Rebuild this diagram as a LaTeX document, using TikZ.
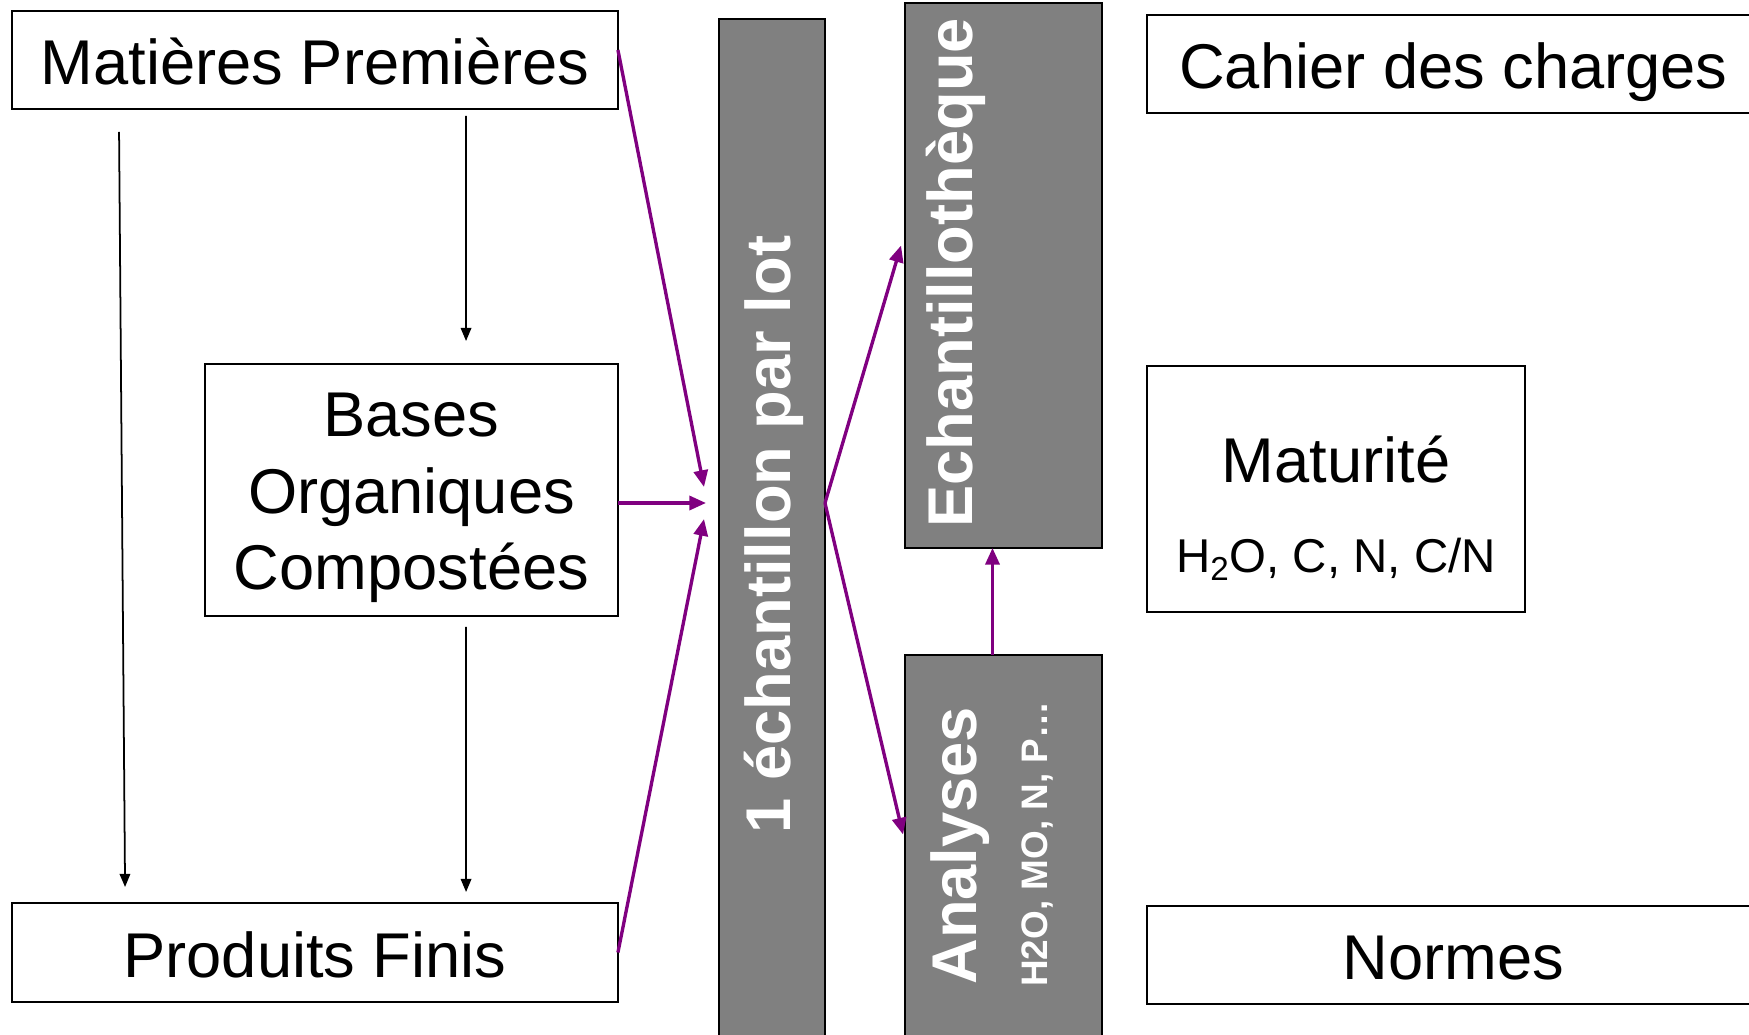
\documentclass[tikz,border=0pt]{standalone}
\usepackage{fontspec}
\setmainfont{Liberation Sans}
\usetikzlibrary{arrows.meta,calc}
\definecolor{lotpurple}{HTML}{800080}
\definecolor{lotgray}{HTML}{808080}
\newcommand{\bigfont}{\fontsize{36}{43.7}\selectfont}
\newcommand{\midfont}{\fontsize{27}{32}\selectfont}
\newcommand{\tinyfont}{\fontsize{21}{25}\selectfont}

\begin{document}
\begin{tikzpicture}[x=0.02cm,y=-0.02cm,
    plainbox/.style={draw,line width=1.3pt,inner sep=0pt,outer sep=0pt,font=\bigfont},
    box/.style={plainbox,text height=28pt,text depth=0pt},
    darkbox/.style={box,fill=lotgray,text=white,font=\bigfont\bfseries},
    darklabel/.style={text=white,inner sep=0pt,rotate=90},
    link/.style={line width=1pt,-{Triangle[length=7.5pt,width=6pt]}},
    flow/.style={line width=1.9pt,lotpurple,-{Triangle[length=9.5pt,width=8pt]}}]
  \fill[white] (0,0) rectangle (1749,1035);
  \useasboundingbox (0,0) rectangle (1749,1035);
  % products
  \node[box,minimum width=12.12cm,minimum height=1.96cm] (mp) at (315,60) {Matières Premières};
  \node[plainbox,minimum width=8.26cm,minimum height=5.04cm] (bases) at (411.5,490) {};
  \node[font=\bigfont,align=center,inner sep=0pt] (basestext) at (411.5,498)
    {Bases\\Organiques\\Compostées};
  \node[box,minimum width=12.12cm,minimum height=1.98cm] (pf) at (315,952.5) {Produits Finis};
  % sampling
  \node[darkbox,rotate=90,text height=21pt,minimum width=20.62cm,minimum height=2.12cm] (bar)
    at (772,534.5) {1 échantillon par lot};
  \node[darkbox,minimum width=3.94cm,minimum height=10.9cm] (ech) at (1003.5,275.5) {};
  \node[darklabel,font=\bigfont\bfseries,anchor=base] (echtext) at (972,273) {Echantillothèque};
  \node[darkbox,minimum width=3.94cm,minimum height=7.9cm] (ana) at (1003.5,852.5) {};
  \node[darklabel,font=\bigfont\bfseries,anchor=base west] (anatext) at (976,985) {Analyses};
  \node[darklabel,font=\tinyfont\bfseries,anchor=base west] (anadetail) at (1047,987) {H2O, MO, N, P…};
  % references
  \node[box,minimum width=12.26cm,minimum height=1.96cm] (cdc) at (1453.5,64) {Cahier des charges};
  \node[plainbox,minimum width=7.56cm,minimum height=4.92cm] (mat) at (1336,489) {};
  \node[font=\bigfont,anchor=base,inner sep=0pt] (matname) at (1336,482) {Maturité};
  \node[font=\midfont,anchor=base,inner sep=0pt] (matparam) at (1336,572) {H\textsubscript{2}O, C, N, C/N};
  \node[box,minimum width=12.26cm,minimum height=1.96cm] (nor) at (1453.5,955) {Normes};
  % black arrows
  \draw[link] ($(mp.south west)+(107,23)$) -- ($(pf.north west)+(113,-16)$);
  \draw[link] ($(mp.south west)+(454,7)$) -- ($(bases.north west)+(261,-23)$);
  \draw[link] ($(bases.south west)+(261,11)$) -- ($(pf.north west)+(454,-11)$);
  % purple arrows
  \coordinate (hub) at (706,503);
  \coordinate (split) at (bar.south |- hub);
  \draw[flow] ($(mp.east)+(0,-10)$) -- ($(hub)+(-2,-16)$);
  \draw[flow] ($(bases.east)+(0,13)$) -- (hub);
  \draw[flow] (pf.east) -- ($(hub)+(-2,16)$);
  \draw[flow] (split) -- ($(ech.west)+(-4,-30)$);
  \draw[flow] (split) -- ($(ana.west)+(-2,-18)$);
  \draw[flow] ($(ana.north)+(-11,0)$) -- ($(ech.south)+(-11,0)$);
\end{tikzpicture}
\end{document}
